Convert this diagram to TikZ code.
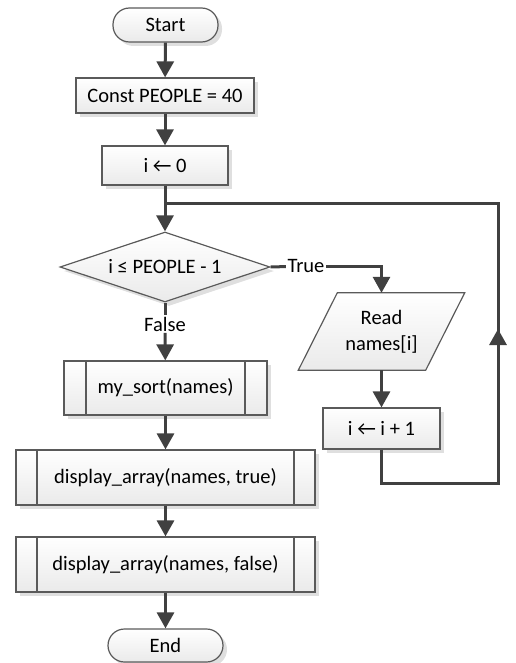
\documentclass[tikz,border=0pt]{standalone}
\usepackage{fontspec}
\setmainfont{Carlito}
\usetikzlibrary{arrows.meta,shadows,shapes.geometric}
\definecolor{edgec}{HTML}{404040}
\definecolor{borderc}{HTML}{5A5A5A}
\definecolor{shadec}{HTML}{EAEAEA}
\begin{document}
\begin{tikzpicture}[x=1pt,y=-1pt,
  every node/.style={font=\fontsize{20.5}{24}\selectfont, text=black},
  shadowed/.style={drop shadow={shadow xshift=4pt, shadow yshift=-4pt, fill=black!18, opacity=0.7}},
  boxbase/.style={draw=borderc, line width=1.2pt, top color=white, bottom color=shadec, shadowed, inner sep=0pt},
  procbox/.style={boxbase, rectangle},
  termbox/.style={boxbase, rectangle, rounded corners=16.5pt},
  decbox/.style={boxbase, diamond, shape aspect=3},
  subbox/.style={procbox, path picture={
      \draw[borderc, line width=1.2pt] ([xshift=#1]path picture bounding box.north west) -- ([xshift=#1]path picture bounding box.south west);
      \draw[borderc, line width=1.2pt] ([xshift=-#1]path picture bounding box.north east) -- ([xshift=-#1]path picture bounding box.south east);}},
  conn/.style={draw=edgec, line width=3pt},
  arrow/.style={conn, -{Triangle[width=17pt,length=16pt]}},
  lbl/.style={fill=white, inner sep=1.5pt}
]
\useasboundingbox (0,0) rectangle (515,663);

\node[termbox, minimum width=105pt, minimum height=34pt] (start) at (165.5,25) {Start};
\node[procbox, minimum width=178pt, minimum height=35pt] (const) at (165,95.5) {Const PEOPLE = 40};
\node[procbox, minimum width=126pt, minimum height=39pt] (i0) at (165,165.5) {i ← 0};
\node[decbox, minimum width=210pt, minimum height=70pt] (dec) at (165,267) {i ≤ PEOPLE - 1};
\node[subbox=22pt, minimum width=203pt, minimum height=54pt] (ms) at (165.5,388) {my\_sort(names)};
\node[subbox=21pt, minimum width=299pt, minimum height=55pt] (d1) at (165.5,477.5) {display\_array(names, true)};
\node[subbox=21pt, minimum width=299pt, minimum height=55pt] (d2) at (165.5,564.5) {display\_array(names, false)};
\node[termbox, minimum width=115pt, minimum height=33pt] (end) at (165.5,645.5) {End};

% parallelogram (drawn around a named node)
\node[inner sep=0pt, minimum width=127pt, minimum height=77pt, align=center] (rd) at (381.5,331.5) {};
\fill[black!18, opacity=0.7, xshift=4pt, yshift=-4pt]
  ([xshift=19.5pt]rd.north west) -- ([xshift=19.5pt]rd.north east) -- ([xshift=-19.5pt]rd.south east) -- ([xshift=-19.5pt]rd.south west) -- cycle;
\draw[draw=borderc, line width=1.2pt, top color=white, bottom color=shadec]
  ([xshift=19.5pt]rd.north west) -- ([xshift=19.5pt]rd.north east) -- ([xshift=-19.5pt]rd.south east) -- ([xshift=-19.5pt]rd.south west) -- cycle;
\node[align=center, font=\fontsize{20.5}{26}\selectfont] (rdt) at (rd.center) {Read\\names[i]};

\node[procbox, minimum width=117pt, minimum height=41pt] (inc) at (381.5,428.5) {i ← i + 1};

% labels
\node[lbl] (tl) at (306,266) {True};
\node[lbl] (fl) at (165,324) {False};

% loop coordinates
\coordinate (c1) at (381.5,483);
\coordinate (c2) at (498,483);
\coordinate (cm) at (498,329);
\coordinate (c3) at (498,203);
\coordinate (c4) at (165,203);

% connectors
\draw[arrow] (start) -- (const);
\draw[arrow] (const) -- (i0);
\draw[arrow] (i0) -- (dec.north);
\draw[conn] (dec.east) -- (tl);
\draw[arrow] (tl) -| (rd.north);
\draw[conn] (dec.south) -- (fl);
\draw[arrow] (fl) -- (ms);
\draw[arrow] (rd.south) -- (inc);
\draw[conn] (inc.south) -- (c1) -- (c2) -- (c3) -- (c4);
\draw[arrow] (c2) -- (cm);
\draw[arrow] (ms) -- (d1);
\draw[arrow] (d1) -- (d2);
\draw[arrow] (d2) -- (end);
\end{tikzpicture}
\end{document}
